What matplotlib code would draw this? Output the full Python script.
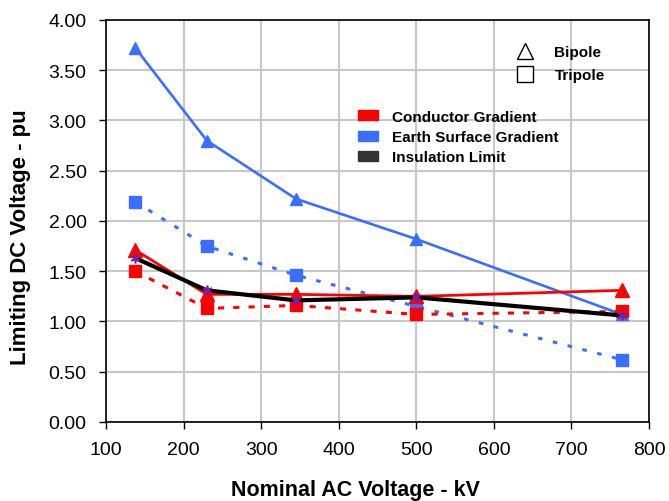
import matplotlib.pyplot as plt
from matplotlib.lines import Line2D
from matplotlib.patches import Patch

plt.rcParams['font.family'] = ['Liberation Sans', 'DejaVu Sans']

kv = [138, 230, 345, 500, 765]
cond_bipole = [1.71, 1.27, 1.27, 1.25, 1.31]
cond_tripole = [1.50, 1.13, 1.16, 1.07, 1.10]
earth_bipole = [3.72, 2.80, 2.22, 1.82, 1.07]
earth_tripole = [2.19, 1.75, 1.46, 1.15, 0.62]
insulation = [1.63, 1.31, 1.21, 1.24, 1.06]

red = '#FF0000'
blue = '#3A6EFF'
dark = '#333333'

fig = plt.figure(figsize=(6.69, 5.02), dpi=100)
ax = fig.add_axes([0.1584, 0.1574, 0.8117, 0.8008])

ax.plot(kv, earth_bipole, color=blue, lw=1.9, marker='^', ms=9, zorder=3)
ax.plot(kv, earth_tripole, color=blue, lw=2.2, ls=(0, (1.5, 3.5)), marker='s', ms=8, zorder=3)
ax.plot(kv, cond_tripole, color=red, lw=2.2, ls=(0, (2, 3)), marker='s', ms=9, zorder=3)
ax.plot(kv, cond_bipole, color=red, lw=2, marker='^', ms=10, zorder=4)
ax.plot(kv, insulation, color='black', lw=3, marker=(6, 2, 0), ms=7,
        mec='#7B1FA2', mew=1.2, zorder=5)

ax.set_xlim(100, 800)
ax.set_ylim(0, 4)
ax.set_xticks(range(100, 801, 100))
ax.set_yticks([i * 0.5 for i in range(9)])
ax.set_yticklabels(['%.2f' % (i * 0.5) for i in range(9)])
ax.grid(True, color='#C8C8C8', lw=1.5)
ax.set_axisbelow(True)
ax.tick_params(labelsize=14, direction='out', length=5, width=1, pad=9)
for s in ax.spines.values():
    s.set_linewidth(1.2)

ax.set_xlabel('Nominal AC Voltage - kV', fontsize=15.5, fontweight='bold')
ax.set_ylabel('Limiting DC Voltage - pu', fontsize=16, fontweight='bold')
ax.xaxis.set_label_coords(0.459, -0.167)
ax.xaxis.label.set_va('center')
ax.yaxis.set_label_coords(-0.158, 0.463)
ax.yaxis.label.set_va('center')

shape_handles = [
    Line2D([], [], ls='none', marker='^', ms=12, mfc='white', mec='black', mew=1),
    Line2D([], [], ls='none', marker='s', ms=11, mfc='white', mec='black', mew=1),
]
leg1 = ax.legend(shape_handles, ['Bipole', 'Tripole'], loc='upper left',
                 bbox_to_anchor=(0.757, 0.938), frameon=False, borderaxespad=0,
                 borderpad=0, prop={'weight': 'bold', 'size': 11},
                 handlelength=1.0, handletextpad=1.45, labelspacing=0.6)
ax.add_artist(leg1)

color_handles = [Patch(color=red), Patch(color=blue), Patch(color=dark)]
ax.legend(color_handles, ['Conductor Gradient', 'Earth Surface Gradient', 'Insulation Limit'],
          loc='upper left', bbox_to_anchor=(0.464, 0.777), frameon=False,
          borderaxespad=0, borderpad=0, prop={'weight': 'bold', 'size': 11},
          handlelength=1.3, handleheight=0.65, handletextpad=0.9, labelspacing=0.42)

fig.savefig('out.png', dpi=100)
